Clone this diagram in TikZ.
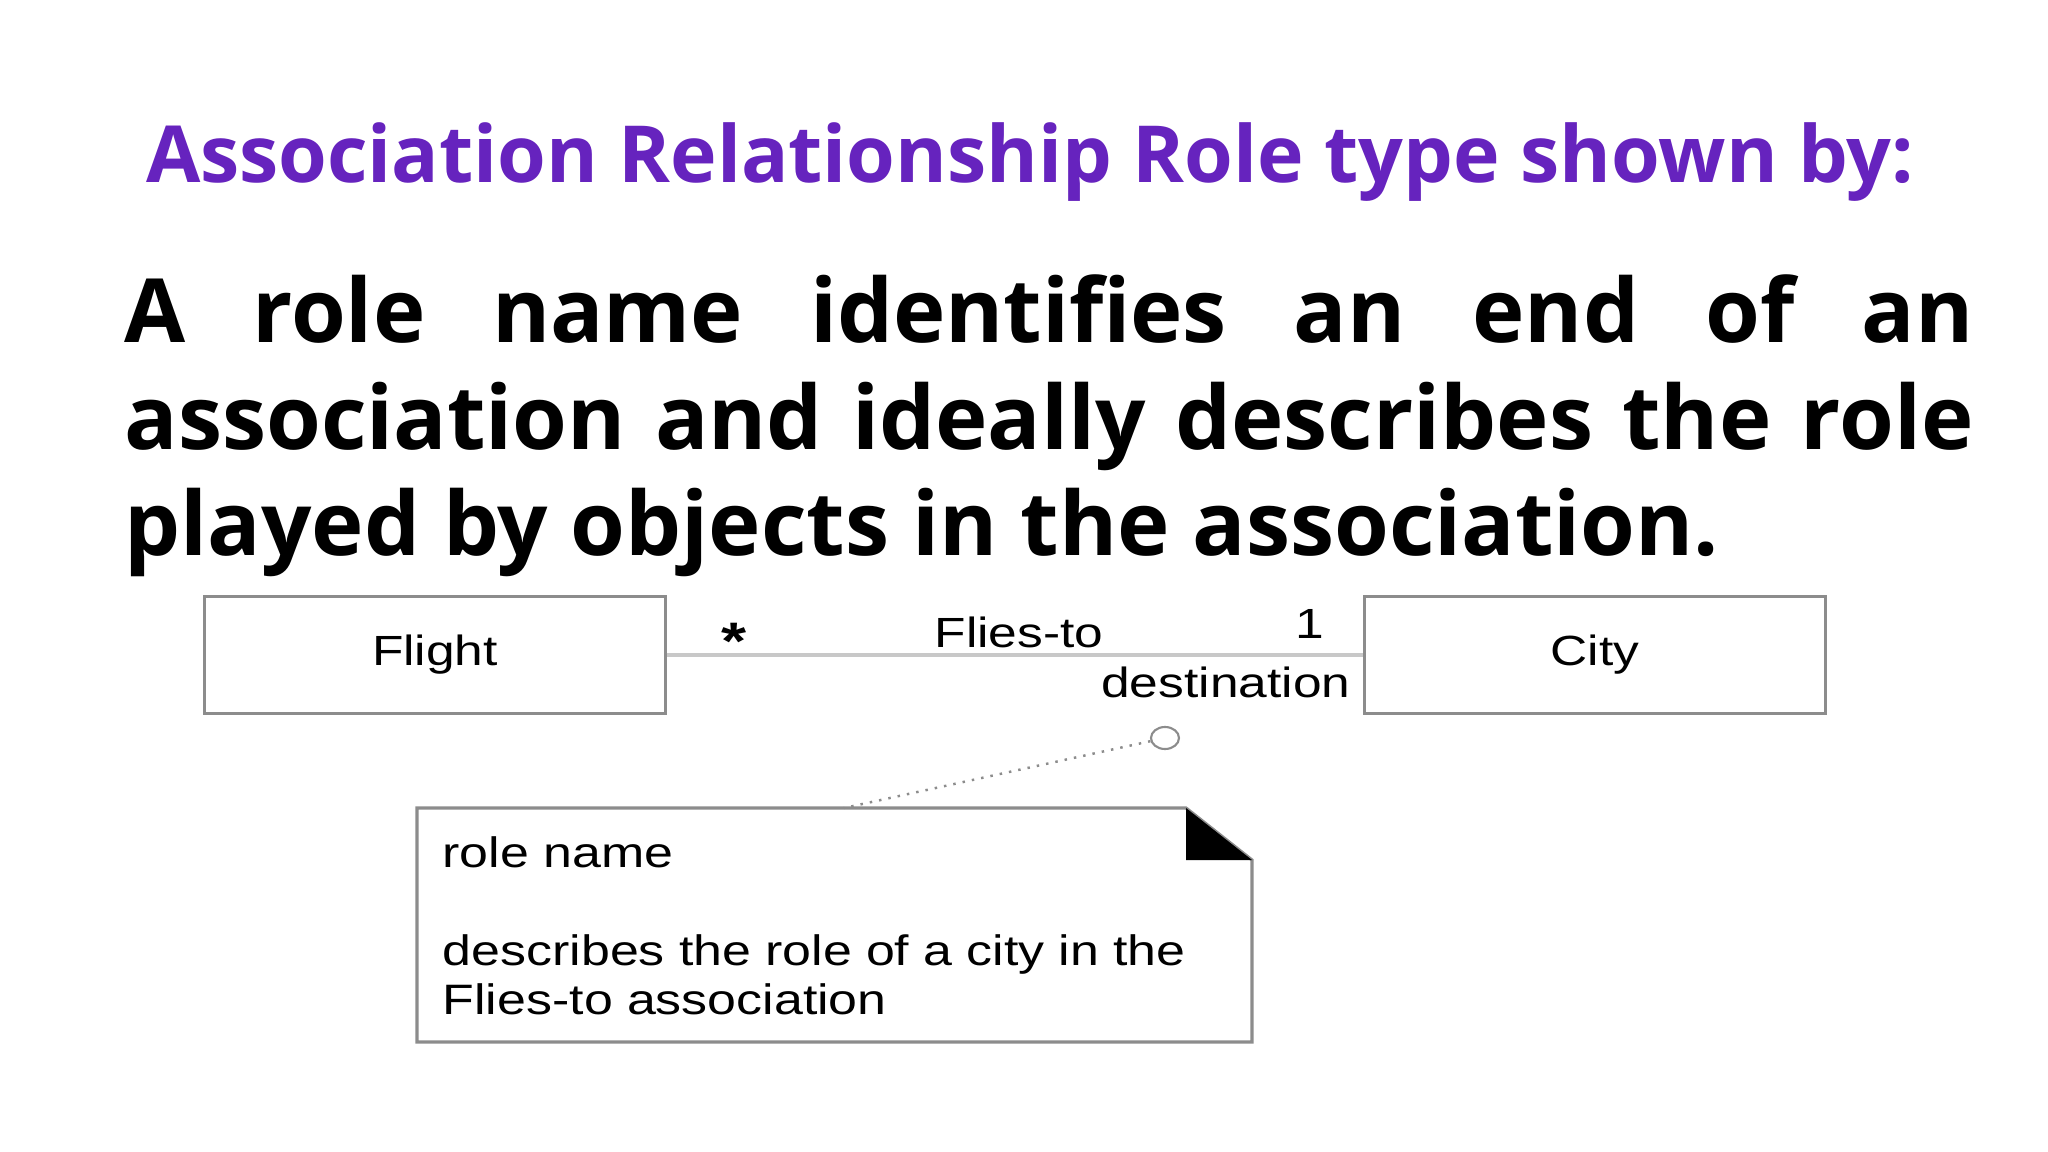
\documentclass[tikz,border=0pt]{standalone}
\usepackage{fontspec}
\setmainfont{Open Sans}
\newfontfamily\umlfont[FakeStretch=1.22]{Liberation Sans}
\usetikzlibrary{shapes.geometric}
\definecolor{titlepurple}{RGB}{102,35,190}
\definecolor{umlgray}{RGB}{140,140,140}
\definecolor{linkgray}{RGB}{200,200,200}

\begin{document}
\begin{tikzpicture}
[x=0.01cm,y=-0.01cm,every node/.style={inner sep=0pt},
classbox/.style={draw=umlgray,line width=0.9pt,minimum width=4.6cm,minimum height=1.17cm,font=\umlfont\fontsize{12}{14}\selectfont},
umltext/.style={font=\umlfont\fontsize{12}{14}\selectfont}]
\useasboundingbox[fill=white] (0,0) rectangle (2048,1152);
\node[font=\bfseries\fontsize{22.4}{28}\selectfont,text=titlepurple,anchor=base] (title) at (1030,183) {Association Relationship Role type shown by:};
\node[font=\bfseries\fontsize{25.2}{30.2}\selectfont,text width=18.48cm,align=justify,anchor=base west] (defn) at (124,343)
{A role name identifies an end of an\linebreak association and ideally describes the role\linebreak played by objects in the association.};
\node[classbox] (flight) at (435,655) {Flight};
\node[classbox] (city) at (1595,655) {City};
\draw[linkgray,line width=0.9pt] (flight) -- (city);
\node[umltext,font=\umlfont\bfseries\fontsize{15}{16}\selectfont] (many) at (734,641) {*};
\node[umltext,anchor=base] (assoc) at (1019,647) {Flies-to};
\node[umltext,anchor=base] (one) at (1310,638) {1};
\node[umltext,anchor=base east] (role) at (1351,697) {destination};
\node[ellipse,draw=umlgray,line width=0.6pt,minimum width=0.28cm,minimum height=0.22cm] (rolept) at (1165,738) {};
% note
\draw[umlgray,line width=0.9pt] (417,808) -- (1186,808) -- (1252,860) -- (1252,1042) -- (417,1042) -- cycle;
\fill (1186,808) -- (1186,860) -- (1252,860) -- cycle;
\coordinate (notetop) at (844,808);
\draw[umlgray,dotted,line width=0.7pt] (rolept) -- (notetop);
\node[umltext,font=\umlfont\fontsize{12.1}{14}\selectfont,text width=7.9cm,align=left,anchor=base west] (notetext) at (442,867)
{role name\\[14pt]describes the role of a city in the\\Flies-to association};
\end{tikzpicture}
\end{document}
